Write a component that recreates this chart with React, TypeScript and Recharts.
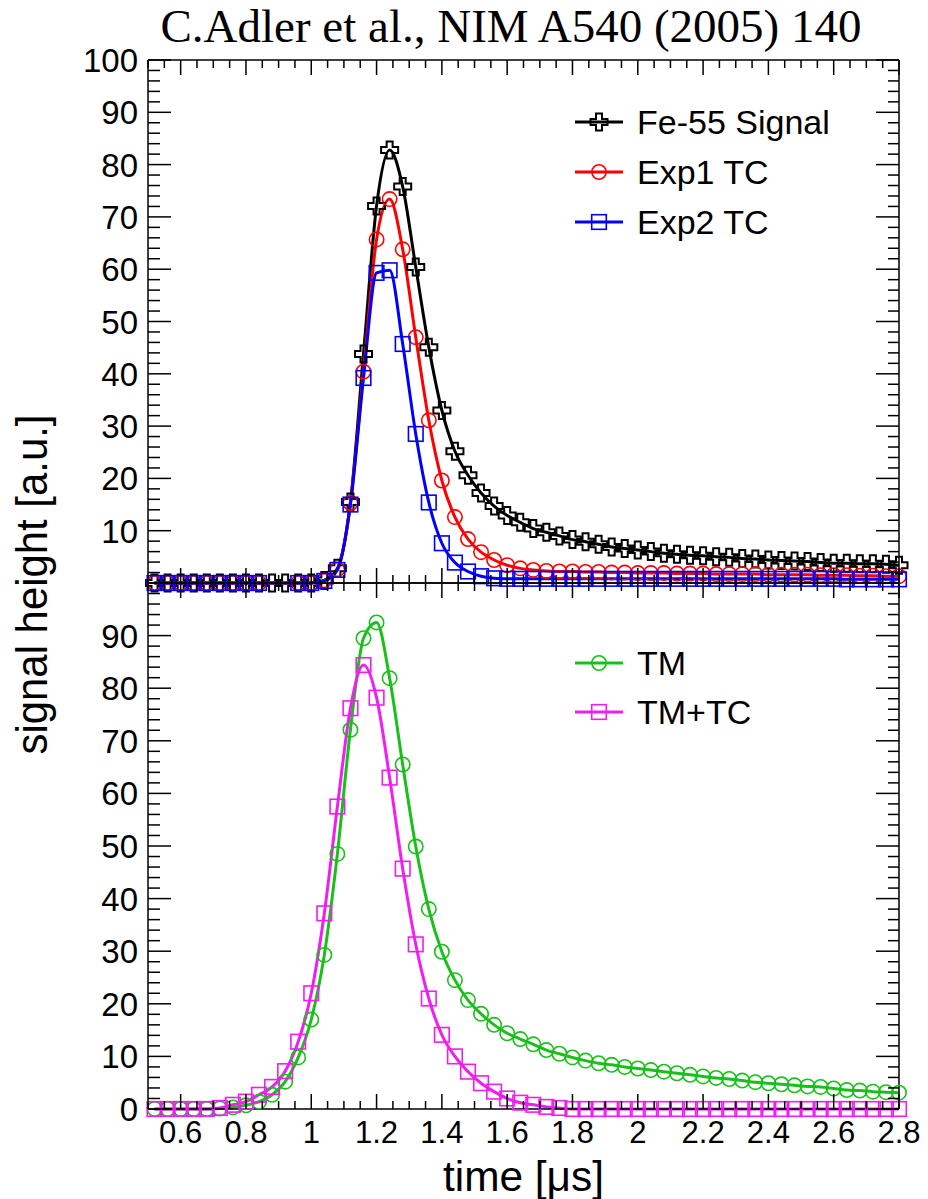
import React from 'react';
import { LineChart, Line, XAxis, YAxis } from 'recharts';

// ---------- data ----------
const TIME = [
  0.52, 0.56, 0.6, 0.64, 0.68, 0.72, 0.76, 0.8, 0.84, 0.88, 0.92, 0.96, 1.0, 1.04, 1.08, 1.12,
  1.16, 1.2, 1.24, 1.28, 1.32, 1.36, 1.4, 1.44, 1.48, 1.52, 1.56, 1.6, 1.64, 1.68, 1.72, 1.76,
  1.8, 1.84, 1.88, 1.92, 1.96, 2.0, 2.04, 2.08, 2.12, 2.16, 2.2, 2.24, 2.28, 2.32, 2.36, 2.4,
  2.44, 2.48, 2.52, 2.56, 2.6, 2.64, 2.68, 2.72, 2.76, 2.8,
];

const FE55 = [
  0, 0, 0, 0, 0, 0, 0, 0, 0, 0, 0, 0, 0, 0.5, 2.8, 15.5,
  43.8, 72.1, 82.8, 75.8, 60.4, 45.1, 33.0, 25.2, 20.6, 17.2, 14.7, 12.9, 11.6, 10.4, 9.7, 9.0,
  8.3, 7.9, 7.4, 6.9, 6.6, 6.3, 6.0, 5.7, 5.5, 5.3, 5.2, 5.0, 4.9, 4.7, 4.6, 4.4,
  4.3, 4.2, 4.1, 3.9, 3.8, 3.8, 3.7, 3.7, 3.6, 3.4,
];

const EXP1 = [
  0, 0, 0, 0, 0, 0, 0, 0, 0, null, null, 0, 0, 0.5, 2.6, 15.3,
  40.4, 65.7, 73.4, 63.8, 47.0, 31.1, 19.6, 12.6, 8.4, 5.9, 4.4, 3.4, 2.8, 2.5, 2.3, 2.2,
  2.2, 2.1, 2.1, 2.0, 2.0, 1.9, 1.9, 1.9, 1.8, 1.8, 1.8, 1.7, 1.7, 1.7, 1.7, 1.6,
  1.6, 1.6, 1.6, 1.5, 1.5, 1.5, 1.4, 1.4, 1.3, 1.3,
];

const EXP2 = [
  0, 0, 0, 0, 0, 0, 0, 0, 0, null, null, 0, 0, 0.4, 2.5, 15.0,
  39.2, 59.3, 59.8, 45.7, 28.5, 15.4, 7.6, 3.9, 2.2, 1.3, 0.9, 0.8, 0.8, 0.8, 0.8, 0.8,
  0.8, 0.8, 0.8, 0.8, 0.8, 0.8, 0.8, 0.8, 0.8, 0.8, 0.8, 0.8, 0.8, 0.8, 0.8, 0.8,
  0.8, 0.8, 0.8, 0.8, 0.8, 0.7, 0.7, 0.7, 0.7, 0.7,
];

const TM = [
  0, 0, 0, 0, 0, 0.1, 0.3, 0.7, 1.4, 2.7, 5.2, 9.8, 17.0, 29.3, 48.5, 72.1,
  89.5, 92.5, 81.9, 65.5, 49.9, 38.0, 29.9, 24.5, 20.7, 18.1, 16.0, 14.4, 13.3, 12.3, 11.2, 10.5,
  9.8, 9.2, 8.7, 8.4, 8.0, 7.7, 7.4, 7.1, 6.8, 6.5, 6.2, 5.9, 5.7, 5.4, 5.1, 4.9,
  4.7, 4.5, 4.3, 4.2, 3.9, 3.6, 3.5, 3.3, 3.2, 3.1,
];

const TMTC = [
  0, 0, 0, 0, 0, 0.2, 0.8, 1.4, 2.7, 4.2, 7.2, 12.8, 22.0, 37.2, 57.5, 76.2,
  84.4, 78.2, 63.0, 45.7, 31.3, 21.0, 14.1, 10.0, 7.1, 4.9, 3.3, 2.0, 1.2, 0.8, 0.4, 0.2,
  0, 0, 0, 0, 0, 0, 0, 0, 0, 0, 0, 0, 0, 0, 0, 0,
  0, 0, 0, 0, 0, 0, 0, 0, 0, 0,
];

const X_LABELS = [0.6, 0.8, 1, 1.2, 1.4, 1.6, 1.8, 2, 2.2, 2.4, 2.6, 2.8];
const Y_LABELS_TOP = [10, 20, 30, 40, 50, 60, 70, 80, 90, 100];
const Y_LABELS_BOTTOM = [0, 10, 20, 30, 40, 50, 60, 70, 80, 90];

const TOP_SERIES = ['Fe-55 Signal', 'Exp1 TC', 'Exp2 TC'];
const BOTTOM_SERIES = ['TM', 'TM+TC'];

const topData = TIME.map((t, i) => ({ t, fe: FE55[i], exp1: EXP1[i], exp2: EXP2[i] }));
const bottomData = TIME.map((t, i) => ({ t, tm: TM[i], tmtc: TMTC[i] }));

// tick mark positions (major + minor)
const X_TICKS = Array.from({ length: 47 }, (_, i) => Math.round((0.5 + i * 0.05) * 100) / 100);
const Y_TICKS = Array.from({ length: 51 }, (_, i) => i * 2);

// ---------- styling ----------
const SANS = "'Liberation Sans', Arial, Helvetica, sans-serif";
const SERIF = "'Liberation Serif', 'Times New Roman', serif";
const Y_TICK_FONT = 33;
const X_TICK_FONT = 31;
const BLACK = '#000000';
const RED = '#ff0000';
const BLUE = '#0000ff';
const GREEN = '#19c019';
const MAGENTA = '#f01ef0';

const LEFT = 148;
const RIGHT = 899;
const TOP = 60;
const MID = 583;
const BOTTOM = 1109;
const W = 928;
const H = 1199;

const near = (v: number, arr: number[]) => arr.some((m) => Math.abs(m - v) < 1e-6);
const isMajorY = (v: number) => Math.abs(v / 10 - Math.round(v / 10)) < 1e-6;

type MarkerKind = 'cross' | 'circle' | 'square';

function Marker({ kind, cx, cy, color }: { kind: MarkerKind; cx: number; cy: number; color: string }) {
  if (kind === 'circle') {
    return <circle cx={cx} cy={cy} r={7.2} fill="none" stroke={color} strokeWidth={1.6} />;
  }
  if (kind === 'square') {
    return <rect x={cx - 7.3} y={cy - 7.3} width={14.6} height={14.6} fill="none" stroke={color} strokeWidth={1.6} />;
  }
  const s = 8.5;
  const a = 3;
  const d = `M${cx - a},${cy - s}H${cx + a}V${cy - a}H${cx + s}V${cy + a}H${cx + a}V${cy + s}H${cx - a}V${cy + a}H${cx - s}V${cy - a}H${cx - a}Z`;
  return <path d={d} fill="none" stroke={color} strokeWidth={2} />;
}

const makeDot = (kind: MarkerKind, color: string) => (p: any) => {
  const { cx, cy, index, value } = p;
  if (cx == null || cy == null || value == null || (Array.isArray(value) && value[1] == null)) {
    return <g key={`e-${index}`} />;
  }
  return (
    <g key={`m-${index}`}>
      <Marker kind={kind} cx={cx} cy={cy} color={color} />
    </g>
  );
};

// ---------- ticks ----------
const xTickBottom = (showLabels: boolean) => (p: any) => {
  const { x, y, payload } = p;
  const v = payload.value;
  const major = near(v, X_LABELS);
  const len = major ? 15 : 8;
  return (
    <g>
      <line x1={x} y1={y} x2={x} y2={y - len} stroke={BLACK} strokeWidth={1.5} />
      {showLabels && major ? (
        <text x={x} y={y + 34} textAnchor="middle" fontFamily={SANS} fontSize={X_TICK_FONT} fill={BLACK}>
          {String(v)}
        </text>
      ) : null}
    </g>
  );
};

const xTickTop = (p: any) => {
  const { x, y, payload } = p;
  const major = near(payload.value, X_LABELS);
  const len = major ? 15 : 8;
  return <line x1={x} y1={y} x2={x} y2={y + len} stroke={BLACK} strokeWidth={1.5} />;
};

const yTickLeft = (labels: number[]) => (p: any) => {
  const { x, y, payload } = p;
  const v = payload.value;
  const major = isMajorY(v);
  const len = major ? 23 : 12;
  return (
    <g>
      <line x1={x} y1={y} x2={x + len} y2={y} stroke={BLACK} strokeWidth={1.5} />
      {major && near(v, labels) ? (
        <text x={x - 10} y={y + 12} textAnchor="end" fontFamily={SANS} fontSize={Y_TICK_FONT} fill={BLACK}>
          {String(v)}
        </text>
      ) : null}
    </g>
  );
};

const yTickRight = (p: any) => {
  const { x, y, payload } = p;
  const major = isMajorY(payload.value);
  const len = major ? 23 : 11;
  return <line x1={x} y1={y} x2={x - len} y2={y} stroke={BLACK} strokeWidth={1.5} />;
};

const axisLine = { stroke: BLACK, strokeWidth: 1.5 };

// legend row
function LegendRow({ y, kind, color, label }: { y: number; kind: MarkerKind; color: string; label: string }) {
  return (
    <g>
      <line x1={575} y1={y} x2={623} y2={y} stroke={color} strokeWidth={3} />
      <Marker kind={kind} cx={599} cy={y} color={color} />
      <text x={637} y={y + 12} fontFamily={SANS} fontSize={34} fill={BLACK}>
        {label}
      </text>
    </g>
  );
}

function PanelAxes(yLabels: number[], showXLabels: boolean) {
  return [
    <XAxis
      key="xb"
      xAxisId={0}
      dataKey="t"
      type="number"
      domain={[0.5, 2.8]}
      ticks={X_TICKS}
      interval={0}
      height={1}
      tickLine={false}
      tickSize={0}
      tickMargin={0}
      axisLine={axisLine}
      tick={xTickBottom(showXLabels)}
    />,
    <XAxis
      key="xt"
      xAxisId="top"
      orientation="top"
      dataKey="t"
      type="number"
      domain={[0.5, 2.8]}
      allowDataOverflow
      ticks={X_TICKS}
      interval={0}
      height={1}
      tickLine={false}
      tickSize={0}
      tickMargin={0}
      axisLine={axisLine}
      tick={xTickTop}
    />,
    <YAxis
      key="yl"
      yAxisId={0}
      type="number"
      domain={[0, 100]}
      ticks={Y_TICKS}
      interval={0}
      width={1}
      tickLine={false}
      tickSize={0}
      tickMargin={0}
      axisLine={axisLine}
      tick={yTickLeft(yLabels)}
    />,
    <YAxis
      key="yr"
      yAxisId="r"
      orientation="right"
      type="number"
      domain={[0, 100]}
      allowDataOverflow
      ticks={Y_TICKS}
      interval={0}
      width={1}
      tickLine={false}
      tickSize={0}
      tickMargin={0}
      axisLine={axisLine}
      tick={yTickRight}
    />,
  ];
}

export default function App() {
  return (
    <div style={{ position: 'absolute', left: 0, top: 0, width: W, height: H, background: '#ffffff', overflow: 'hidden' }}>
      {/* top panel */}
      <div style={{ position: 'absolute', left: 0, top: 0 }}>
        <LineChart
          width={W}
          height={600}
          data={topData}
          margin={{ top: TOP - 1, right: W - RIGHT - 1, bottom: 600 - MID - 1, left: LEFT - 1 }}
        >
          {PanelAxes(Y_LABELS_TOP, false)}
          <Line
            type="monotone"
            dataKey="fe"
            name={TOP_SERIES[0]}
            stroke={BLACK}
            strokeWidth={3}
            dot={makeDot('cross', BLACK)}
            activeDot={false}
            connectNulls
            isAnimationActive={false}
          />
          <Line
            type="monotone"
            dataKey="exp1"
            name={TOP_SERIES[1]}
            stroke={RED}
            strokeWidth={3}
            dot={makeDot('circle', RED)}
            activeDot={false}
            connectNulls
            isAnimationActive={false}
          />
          <Line
            type="monotone"
            dataKey="exp2"
            name={TOP_SERIES[2]}
            stroke={BLUE}
            strokeWidth={3}
            dot={makeDot('square', BLUE)}
            activeDot={false}
            connectNulls
            isAnimationActive={false}
          />
        </LineChart>
      </div>

      {/* bottom panel */}
      <div style={{ position: 'absolute', left: 0, top: 0 }}>
        <LineChart
          width={W}
          height={H}
          data={bottomData}
          margin={{ top: MID - 1, right: W - RIGHT - 1, bottom: H - BOTTOM - 1, left: LEFT - 1 }}
        >
          {PanelAxes(Y_LABELS_BOTTOM, true)}
          <Line
            type="monotone"
            dataKey="tm"
            name={BOTTOM_SERIES[0]}
            stroke={GREEN}
            strokeWidth={3}
            dot={makeDot('circle', GREEN)}
            activeDot={false}
            isAnimationActive={false}
          />
          <Line
            type="monotone"
            dataKey="tmtc"
            name={BOTTOM_SERIES[1]}
            stroke={MAGENTA}
            strokeWidth={3}
            dot={makeDot('square', MAGENTA)}
            activeDot={false}
            isAnimationActive={false}
          />
        </LineChart>
      </div>

      {/* titles and legends */}
      <svg
        width={W}
        height={H}
        style={{ position: 'absolute', left: 0, top: 0, pointerEvents: 'none' }}
      >
        <text x={511} y={42} textAnchor="middle" fontFamily={SERIF} fontSize={47} fill={BLACK}>
          C.Adler et al., NIM A540 (2005) 140
        </text>
        <text
          transform={`translate(47, ${(TOP + BOTTOM) / 2}) rotate(-90)`}
          x={0}
          y={0}
          textAnchor="middle"
          fontFamily={SANS}
          fontSize={45}
          textLength={340}
          lengthAdjust="spacingAndGlyphs"
          fill={BLACK}
        >
          signal height [a.u.]
        </text>
        <text
          x={(LEFT + RIGHT) / 2}
          y={1191}
          textAnchor="middle"
          fontFamily={SANS}
          fontSize={42}
          textLength={161}
          lengthAdjust="spacingAndGlyphs"
          fill={BLACK}
        >
          time [μs]
        </text>

        <LegendRow y={122} kind="cross" color={BLACK} label={TOP_SERIES[0]} />
        <LegendRow y={172} kind="circle" color={RED} label={TOP_SERIES[1]} />
        <LegendRow y={222} kind="square" color={BLUE} label={TOP_SERIES[2]} />
        <LegendRow y={663} kind="circle" color={GREEN} label={BOTTOM_SERIES[0]} />
        <LegendRow y={712} kind="square" color={MAGENTA} label={BOTTOM_SERIES[1]} />
      </svg>
    </div>
  );
}
